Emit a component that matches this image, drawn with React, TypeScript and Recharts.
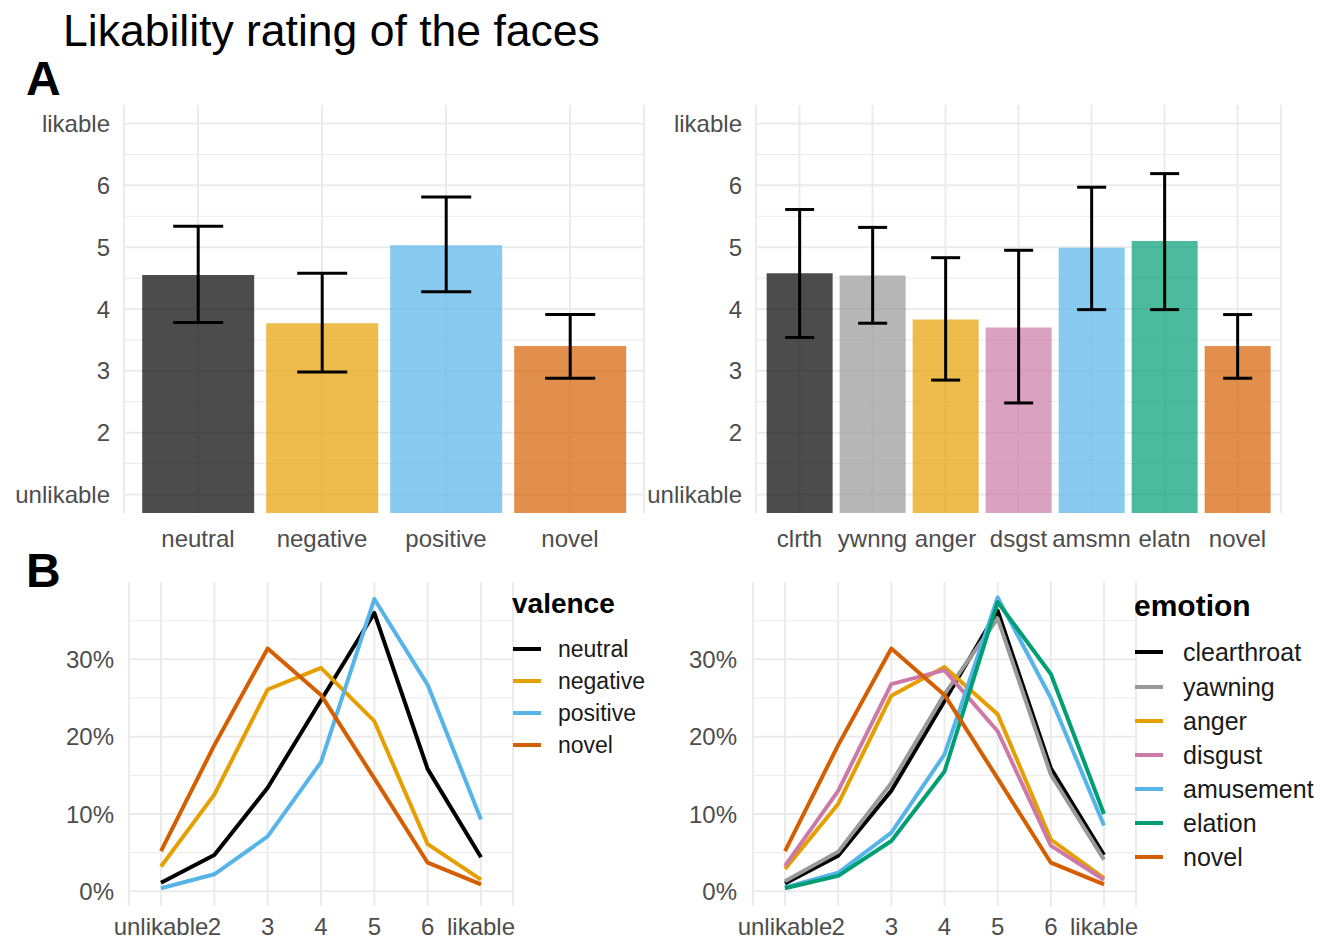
import {
  BarChart,
  Bar,
  Cell,
  ErrorBar,
  LineChart,
  Line,
  XAxis,
  YAxis,
  CartesianGrid,
} from 'recharts';

// top row: mean likability with error bars
const valenceCats = ['neutral', 'negative', 'positive', 'novel'];
const valenceMean = [4.55, 3.77, 5.03, 3.4];
const valenceLow = [3.78, 2.98, 4.28, 2.88];
const valenceHigh = [5.34, 4.58, 5.81, 3.91];

const emotionCats = ['clrth', 'ywnng', 'anger', 'dsgst', 'amsmn', 'elatn', 'novel'];
const emotionMean = [4.58, 4.54, 3.83, 3.7, 4.99, 5.1, 3.4];
const emotionLow = [3.54, 3.77, 2.85, 2.48, 3.99, 3.99, 2.88];
const emotionHigh = [5.61, 5.32, 4.83, 4.95, 5.97, 6.19, 3.91];

// bottom row: share of ratings (%) per rating level
const ratingLevels = ['unlikable', '2', '3', '4', '5', '6', 'likable'];

const neutralPct = [1.1, 4.7, 13.4, 24.7, 36.0, 15.8, 4.4];
const negativePct = [3.2, 12.5, 26.1, 28.9, 22.0, 6.1, 1.5];
const positivePct = [0.4, 2.2, 7.1, 16.7, 37.8, 26.7, 9.3];
const novelPct = [5.2, 18.9, 31.4, 25.4, 14.6, 3.7, 0.9];

const clearthroatPct = [1.0, 4.6, 13.0, 24.6, 36.3, 15.9, 4.7];
const yawningPct = [1.3, 5.1, 14.0, 25.5, 35.3, 15.1, 4.1];
const angerPct = [2.9, 11.3, 25.3, 29.0, 22.9, 6.7, 1.7];
const disgustPct = [3.3, 13.0, 26.8, 28.6, 20.7, 5.9, 1.5];
const amusementPct = [0.5, 2.4, 7.6, 17.7, 38.0, 25.0, 8.5];
const elationPct = [0.4, 2.0, 6.5, 15.5, 37.4, 28.1, 10.0];

const valenceNames = ['neutral', 'negative', 'positive', 'novel'];
const emotionNames = ['clearthroat', 'yawning', 'anger', 'disgust', 'amusement', 'elation', 'novel'];

const valenceColors = ['#000000', '#E69F00', '#56B4E9', '#D55E00'];
const emotionColors = ['#000000', '#999999', '#E69F00', '#CC79A7', '#56B4E9', '#009E73', '#D55E00'];

const FONT = '"Liberation Sans", Arial, Helvetica, sans-serif';
const GRID = '#EBEBEB';
const TICK = { fill: '#4D4D4D', fontSize: 24, fontFamily: FONT };

const majorY = [1, 2, 3, 4, 5, 6, 7];
const minorY = [1.5, 2.5, 3.5, 4.5, 5.5, 6.5];
const pctTicks = [0, 10, 20, 30];
const pctMinor = [5, 15, 25, 35];

function barRows(cats: string[], mean: number[], low: number[], high: number[]) {
  return cats.map((c, i) => ({
    cat: c,
    mean: mean[i],
    err: [mean[i] - low[i], high[i] - mean[i]],
  }));
}

function lineRows(names: string[], series: number[][]) {
  return ratingLevels.map((lvl, i) => {
    const row: Record<string, any> = { level: lvl };
    names.forEach((n, k) => {
      row[n] = series[k][i];
    });
    return row;
  });
}

const likeLabel = (v: number) => (v === 1 ? 'unlikable' : v === 7 ? 'likable' : String(v));

function BarPanel(props: {
  left: number;
  cats: string[];
  mean: number[];
  low: number[];
  high: number[];
  colors: string[];
  yWidth: number;
  right: number;
  pad: number;
  cap: number;
}) {
  const data = barRows(props.cats, props.mean, props.low, props.high);
  return (
    <div style={{ position: 'absolute', left: props.left, top: 90 }}>
      <BarChart
        width={660}
        height={480}
        data={data}
        margin={{ top: 15, right: props.right, bottom: 17, left: 0 }}
        barCategoryGap="5%"
      >
        <CartesianGrid stroke={GRID} strokeWidth={1} vertical={false} horizontalValues={minorY} />
        <CartesianGrid stroke={GRID} strokeWidth={2} horizontalValues={majorY} />
        <XAxis
          dataKey="cat"
          height={40}
          axisLine={false}
          tickLine={false}
          tickSize={0}
          tickMargin={17}
          interval={0}
          padding={{ left: props.pad, right: props.pad }}
          tick={TICK}
        />
        <YAxis
          type="number"
          width={props.yWidth}
          domain={[0.7, 7.3]}
          allowDataOverflow
          ticks={majorY}
          tickFormatter={likeLabel}
          axisLine={false}
          tickLine={false}
          tickSize={0}
          tickMargin={14}
          tick={TICK}
        />
        <Bar dataKey="mean" fillOpacity={0.7} isAnimationActive={false}>
          {data.map((d, i) => (
            <Cell key={d.cat} fill={props.colors[i]} />
          ))}
          <ErrorBar dataKey="err" direction="y" width={props.cap} stroke="#000" strokeWidth={3} />
        </Bar>
      </BarChart>
    </div>
  );
}

function LinePanel(props: {
  left: number;
  names: string[];
  series: number[][];
  colors: string[];
  yWidth: number;
  right: number;
  tickMargin: number;
}) {
  const data = lineRows(props.names, props.series);
  return (
    <div style={{ position: 'absolute', left: props.left, top: 570 }}>
      <LineChart
        width={660}
        height={370}
        data={data}
        margin={{ top: 12, right: props.right, bottom: 0, left: 0 }}
      >
        <CartesianGrid stroke={GRID} strokeWidth={1} vertical={false} horizontalValues={pctMinor} />
        <CartesianGrid stroke={GRID} strokeWidth={2} horizontalValues={pctTicks} />
        <XAxis
          dataKey="level"
          height={34}
          axisLine={false}
          tickLine={false}
          tickSize={0}
          tickMargin={12}
          interval={0}
          padding={{ left: 32, right: 32 }}
          tick={TICK}
        />
        <YAxis
          type="number"
          width={props.yWidth}
          domain={[-1.9, 40]}
          allowDataOverflow
          ticks={pctTicks}
          tickFormatter={(v: number) => `${v}%`}
          axisLine={false}
          tickLine={false}
          tickSize={0}
          tickMargin={props.tickMargin}
          tick={TICK}
        />
        {props.names.map((n, i) => (
          <Line
            key={n}
            dataKey={n}
            stroke={props.colors[i]}
            strokeWidth={4}
            strokeLinejoin="round"
            dot={false}
            activeDot={false}
            isAnimationActive={false}
          />
        ))}
      </LineChart>
    </div>
  );
}

function LegendBlock(props: {
  x: number;
  titleY: number;
  title: string;
  titleSize: number;
  names: string[];
  colors: string[];
  ys: number[];
  textX: number;
  size: number;
}) {
  return (
    <g fontFamily={FONT}>
      <text x={props.x} y={props.titleY} fontSize={props.titleSize} fontWeight="bold" fill="#000" dominantBaseline="central">
        {props.title}
      </text>
      {props.names.map((n, i) => (
        <g key={n}>
          <line x1={props.x + 1} x2={props.x + 29} y1={props.ys[i]} y2={props.ys[i]} stroke={props.colors[i]} strokeWidth={4} />
          <text x={props.textX} y={props.ys[i]} fontSize={props.size} fill="#1A1A1A" dominantBaseline="central">
            {n}
          </text>
        </g>
      ))}
    </g>
  );
}

export default function App() {
  return (
    <div style={{ position: 'absolute', left: 0, top: 0, width: 1329, height: 940, background: '#fff', fontFamily: FONT }}>
      <BarPanel
        left={0}
        cats={valenceCats}
        mean={valenceMean}
        low={valenceLow}
        high={valenceHigh}
        colors={valenceColors}
        yWidth={124}
        right={16}
        pad={12}
        cap={25}
      />
      <BarPanel
        left={640}
        cats={emotionCats}
        mean={emotionMean}
        low={emotionLow}
        high={emotionHigh}
        colors={emotionColors}
        yWidth={116}
        right={19}
        pad={7}
        cap={14.5}
      />
      <LinePanel
        left={0}
        names={valenceNames}
        series={[neutralPct, negativePct, positivePct, novelPct]}
        colors={valenceColors}
        yWidth={129}
        right={147}
        tickMargin={15}
      />
      <LinePanel
        left={640}
        names={emotionNames}
        series={[clearthroatPct, yawningPct, angerPct, disgustPct, amusementPct, elationPct, novelPct]}
        colors={emotionColors}
        yWidth={113}
        right={164}
        tickMargin={16}
      />
      <svg
        width={1329}
        height={940}
        style={{ position: 'absolute', left: 0, top: 0, pointerEvents: 'none' }}
      >
        <text x={63} y={46} fontSize={44.5} fill="#000" fontFamily={FONT}>
          Likability rating of the faces
        </text>
        <text x={26} y={95} fontSize={48} fontWeight="bold" fill="#000" fontFamily={FONT}>
          A
        </text>
        <text x={26} y={587} fontSize={48} fontWeight="bold" fill="#000" fontFamily={FONT}>
          B
        </text>
        <LegendBlock
          x={512}
          titleY={603}
          title="valence"
          titleSize={28}
          names={valenceNames}
          colors={valenceColors}
          ys={[649, 681, 713, 745]}
          textX={558}
          size={23}
        />
        <LegendBlock
          x={1134}
          titleY={605}
          title="emotion"
          titleSize={30}
          names={emotionNames}
          colors={emotionColors}
          ys={[652, 687, 721, 755, 789, 823, 857]}
          textX={1183}
          size={25}
        />
      </svg>
    </div>
  );
}
